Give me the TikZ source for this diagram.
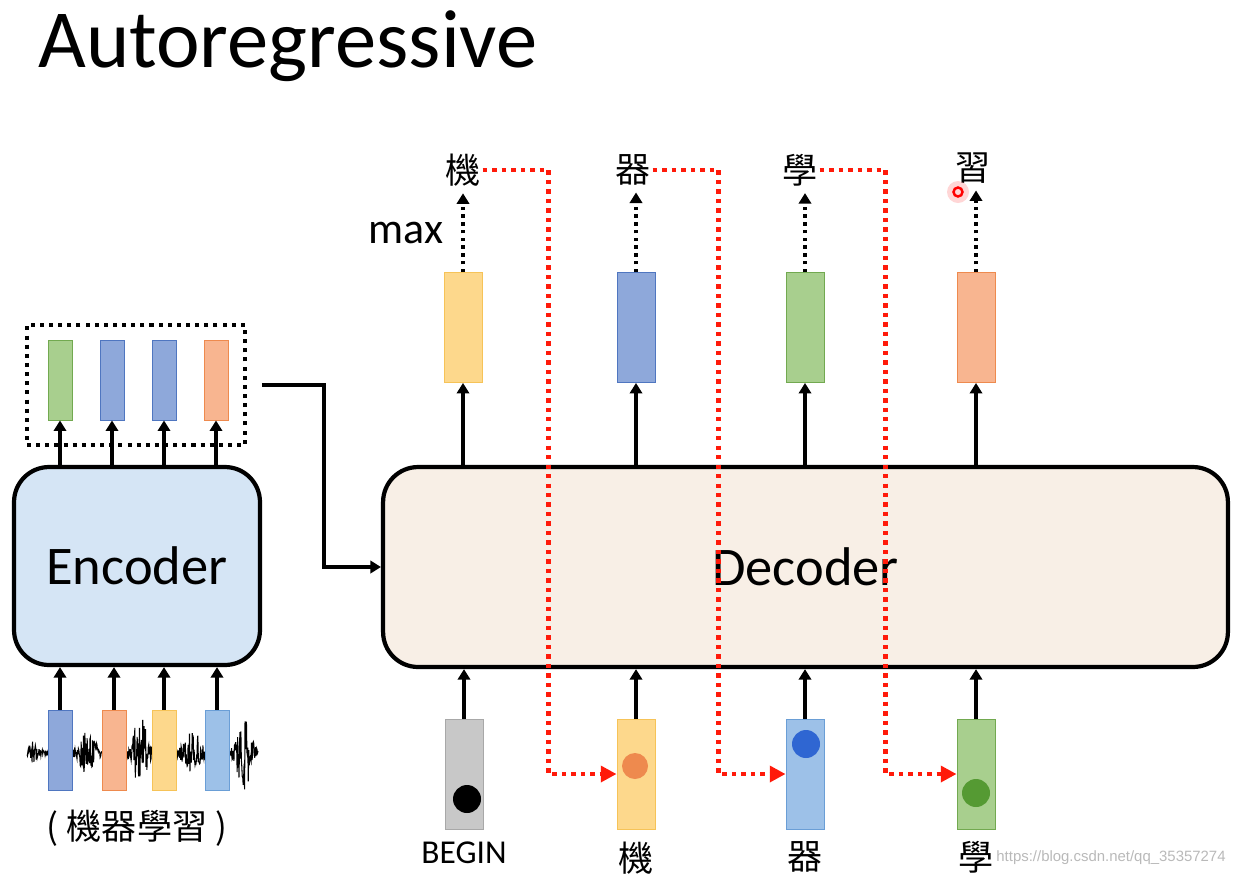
\documentclass[tikz,border=0pt]{standalone}
\usepackage{fontspec}
\setmainfont{Carlito}
\newfontfamily\cjk{Noto Sans CJK TC}
\newfontfamily\wmfont{Liberation Sans}
\usetikzlibrary{positioning,arrows.meta}

\definecolor{yel}{HTML}{FDD88C}\definecolor{yelB}{HTML}{F6C358}
\definecolor{blu}{HTML}{8EA8DA}\definecolor{bluB}{HTML}{4F76C0}
\definecolor{lbl}{HTML}{9DC1E8}\definecolor{lblB}{HTML}{6A9ED6}
\definecolor{grn}{HTML}{A8CF8E}\definecolor{grnB}{HTML}{72A950}
\definecolor{org}{HTML}{F8B590}\definecolor{orgB}{HTML}{EE8A4E}
\definecolor{gry}{HTML}{C8C8C8}\definecolor{gryB}{HTML}{A8A8A8}
\definecolor{encfill}{HTML}{D5E5F5}
\definecolor{decfill}{HTML}{F8EFE6}
\definecolor{redline}{HTML}{FF1A0A}
\definecolor{dotblu}{HTML}{2F66D2}
\definecolor{dotgrn}{HTML}{559A33}

\begin{document}
\begin{tikzpicture}[x=0.02cm,y=-0.02cm,
  vec/.style={draw,line width=0.5pt,inner sep=0,minimum width=0.76cm,minimum height=2.2cm},
  svec/.style={vec,minimum width=0.48cm,minimum height=1.6cm},
  block/.style={draw,line width=2.4pt,rounded corners=0.7cm,inner sep=0,font=\fontsize{31}{33}\selectfont},
  dotbox/.style={draw,line width=2.3pt,dash pattern=on 2.3pt off 2.9pt,inner sep=0},
  arr/.style={line width=1.9pt,-{Triangle[length=6pt,width=7pt]}},
  darr/.style={arr,dash pattern=on 2pt off 2.4pt},
  rarr/.style={redline,line width=2.5pt,dash pattern=on 2.5pt off 2.9pt,-{Triangle[length=9pt,width=9pt]}},
  zh/.style={font=\cjk\fontsize{20}{22}\selectfont,inner sep=1pt},
  declare function={amp(\t)=3+20*exp(-((\t-88)/9)^2)+34*exp(-((\t-140)/8)^2)+22*exp(-((\t-192)/9)^2)+34*exp(-((\t-244)/8)^2)+9*exp(-((\t-33)/4)^2);}]
\useasboundingbox (0,0) rectangle (1240,877);
%
\node[anchor=base west,inner sep=0,font=\fontsize{47}{50}\selectfont] (title) at (38,67) {Autoregressive};
%
% encoder side
\node[block,fill=encfill,minimum width=4.92cm,minimum height=3.96cm] (enc) at (137,566) {Encoder};
\node[dotbox,minimum width=4.36cm,minimum height=2.4cm] (mem) at (136,385) {};
\foreach \x/\c [count=\i] in {60/grn,112/blu,164/blu,216/org}
  \node[svec,fill=\c,draw=\c B] (eo\i) at (\x,380) {};
\pgfmathsetseed{3}
\draw[line width=0.6pt] plot[domain=27:258,samples=500] (\x,{753+amp(\x)*rand});
\foreach \x/\c [count=\i] in {60/blu,114/org,164/yel,217/lbl}
  \node[svec,fill=\c,draw=\c B] (ei\i) at (\x,750) {};
\foreach \i in {1,...,4} {
  \draw[arr] (enc.north -| eo\i) -- (eo\i);
  \draw[arr] (ei\i) -- (enc.south -| ei\i);
}
\node[zh] (src) at (137,828) {( 機器學習 )};
%
% decoder side
\node[block,fill=decfill,minimum width=16.9cm,minimum height=4cm] (dec) at (805.5,567) {Decoder};
\draw[arr,shorten <=0.3cm] (mem.east) -- ++(77,0) |- (dec.west);
\foreach \x/\c [count=\i] in {463/yel,636/blu,805/grn,976/org}
  \node[vec,fill=\c,draw=\c B] (do\i) at (\x,327.5) {};
\foreach \x/\c [count=\i] in {464/gry,636/yel,805/lbl,976/grn}
  \node[vec,fill=\c,draw=\c B] (di\i) at (\x,774) {};
\fill (467,799) circle[radius=14];
\fill[orgB] (635,766) circle[radius=13];
\fill[dotblu] (806,744) circle[radius=14];
\fill[dotgrn] (976,793) circle[radius=14];
%
\node[zh] (t1) at (463,170) {機};
\node[zh] (t2) at (633,170) {器};
\node[zh] (t3) at (800,170) {學};
\node[zh] (t4) at (973,168) {習};
\node[font=\fontsize{25}{27}\selectfont] (mx) at (406,233) {max};
\node[below=0.2cm of di1,inner sep=1pt,font=\fontsize{19}{21}\selectfont] (b1) {BEGIN};
\node[zh,below=0.2cm of di2] (b2) {機};
\node[zh,below=0.2cm of di3] (b3) {器};
\node[zh,below=0.2cm of di4] (b4) {學};
%
\foreach \i in {1,...,4} {
  \draw[arr] (dec.north -| do\i) -- (do\i);
  \draw[darr,shorten >=0.1cm] (do\i.north) -- (do\i.north |- t\i.south);
  \draw[arr] (di\i) -- (dec.south -| di\i);
}
\draw[rarr] (t1.east) -- ++(66,0) |- (di2.west);
\draw[rarr] (t2.east) -- ++(66,0) |- (di3.west);
\draw[rarr] (t3.east) -- ++(66,0) |- (di4.west);
%
\fill[red!40,opacity=0.4] (958,192) circle[radius=11];
\draw[red,line width=1.4pt] (958,192) circle[radius=4.5];
\node[font=\wmfont\fontsize{8.5}{10}\selectfont,text=gray!55] (wm) at (1111,858) {https://blog.csdn.net/qq\_35357274};
\end{tikzpicture}
\end{document}
